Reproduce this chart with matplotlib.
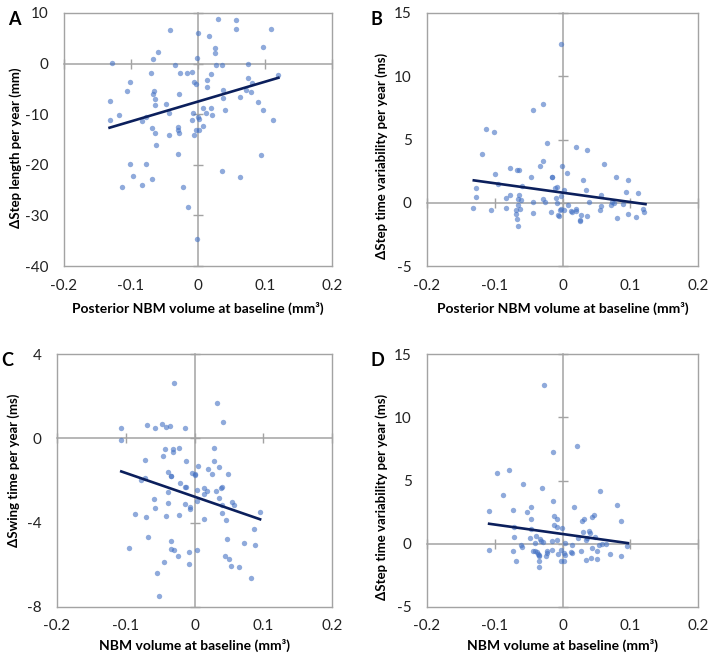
import matplotlib
matplotlib.use("Agg")
import matplotlib.pyplot as plt
import numpy as np

plt.rcParams['font.family'] = ['Lato', 'DejaVu Sans']

# точки (x, y) для каждой панели
step_len_pts = [
    (-0.1285, 0.2), (-0.0425, 6.67), (0.0, 6.0), (0.0305, 8.87), (0.057, 8.53), (0.056, 6.93),
    (0.1095, 6.93), (0.0165, 5.4), (0.0975, 3.27), (-0.0595, 2.2), (0.026, 3.13), (0.025, 2.0),
    (-0.0015, 1.2), (-0.0665, 0.87), (-0.0345, -0.2), (0.0275, -0.2), (0.0355, -0.2), (0.0745, 0.0),
    (-0.0695, -1.8), (-0.0265, -1.93), (-0.0165, -1.8), (-0.0095, -1.67), (0.02, -2.13), (0.12, -2.2),
    (-0.006, -3.73), (-0.003, -4.13), (0.0135, -3.2), (0.074, -2.87), (0.081, -3.87), (-0.101, -3.73),
    (-0.1065, -5.47), (-0.066, -5.4), (-0.0675, -6.07), (-0.0635, -7.07), (0.013, -4.67), (0.0715, -5.27),
    (0.0785, -5.6), (0.062, -6.6), (0.038, -6.73), (0.0375, -5.13), (-0.0285, -5.93), (-0.131, -7.33),
    (-0.0645, -8.2), (-0.048, -8.07), (0.007, -8.8), (0.02, -8.8), (0.04, -9.13), (0.09, -7.53),
    (0.0975, -9.13), (-0.118, -10.07), (-0.131, -11.2), (-0.0835, -11.27), (-0.078, -10.47), (-0.044, -9.73),
    (-0.0075, -9.73), (0.0005, -10.53), (0.002, -10.93), (-0.0085, -11.07), (0.0125, -9.8), (0.021, -10.13),
    (0.112, -11.2), (-0.0685, -12.67), (-0.03, -12.53), (-0.0295, -13.07), (-0.0035, -13.07), (0.0015, -13.07),
    (0.007, -12.4), (-0.0635, -13.73), (-0.044, -14.2), (-0.0285, -13.73), (-0.0065, -14.2), (-0.062, -16.13),
    (-0.03, -17.87), (0.094, -18.13), (-0.1015, -19.8), (-0.0775, -19.93), (0.0365, -21.13), (-0.0965, -22.29),
    (-0.068, -22.75), (0.063, -22.42), (-0.1135, -24.3), (-0.0835, -23.99), (-0.023, -24.3), (-0.0155, -28.37),
    (-0.0015, -34.58),
]
step_var_post_pts = [
    (-0.0025, 12.54), (-0.0441, 7.30), (-0.0294, 7.80), (-0.1132, 5.85), (-0.1015, 5.58), (-0.023, 4.71),
    (0.0201, 4.39), (0.0368, 4.15), (-0.1181, 3.89), (0.0618, 3.10), (-0.0005, 2.94), (-0.0289, 3.33),
    (-0.0338, 2.88), (-0.0779, 2.77), (-0.0672, 2.57), (-0.0647, 2.57), (-0.1, 2.25), (0.0069, 2.38),
    (-0.047, 2.01), (-0.016, 2.04), (-0.0155, 2.02), (0.0304, 1.8), (0.0784, 2.06), (0.097, 1.8),
    (-0.0598, 1.3), (-0.0118, 1.19), (-0.0083, 1.27), (-0.128, 1.19), (-0.0956, 1.51), (0.0015, 0.98),
    (0.0348, 0.98), (0.0931, 0.85), (0.1108, 0.79), (0.0564, 0.61), (-0.1275, 0.42), (-0.0833, 0.40),
    (-0.0770, 0.63), (-0.0647, 0.61), (-0.0662, 0.29), (-0.0618, 0.21), (-0.0284, 0.29), (-0.0098, 0.40),
    (-0.0029, 0.50), (-0.0436, 0.08), (-0.026, 0.05), (-0.0078, -0.03), (0.0387, 0.05), (0.0735, 0.08),
    (0.0755, -0.03), (0.0716, -0.16), (0.0897, -0.13), (-0.0652, -0.21), (0.0074, -0.21), (0.0574, -0.29),
    (-0.1319, -0.42), (-0.1049, -0.58), (-0.0828, -0.45), (-0.0632, -0.48), (-0.0686, -0.56), (-0.0044, -0.56),
    (-0.0015, -0.53), (0.0015, -0.61), (0.0201, -0.53), (0.0559, -0.61), (0.1191, -0.53), (0.1196, -0.74),
    (-0.0431, -0.82), (-0.0176, -0.74), (0.012, -0.68), (0.014, -0.72), (0.0206, -0.69), (0.0275, -0.95),
    (0.0363, -1.08), (-0.0691, -0.87), (0.097, -0.9), (-0.0064, -1.0), (-0.0059, -1.08), (-0.0667, -1.30),
    (0.0809, -1.24), (0.1088, -1.14), (0.0255, -1.37), (0.026, -1.42), (-0.0652, -1.80),
]
swing_pts = [
    (-0.0299, 2.64), (0.0328, 1.66), (0.0419, 0.79), (-0.1065, 0.49), (-0.0694, 0.63), (-0.0578, 0.49),
    (-0.0467, 0.68), (-0.0414, 0.52), (-0.0361, 0.57), (-0.0135, 0.49), (-0.1065, -0.06), (-0.0434, -0.49),
    (-0.0308, -0.52), (-0.0313, -0.65), (-0.0222, -0.46), (0.0289, -0.46), (-0.0463, -0.84), (-0.0718, -1.01),
    (-0.012, -1.06), (0.028, -1.06), (0.0048, -1.30), (0.0361, -1.38), (0.0193, -1.47), (0.0255, -1.68),
    (0.0487, -1.69), (-0.039, -1.58), (-0.0337, -1.77), (-0.0342, -1.79), (-0.0034, -1.63), (0.0, -1.7),
    (0.001, -1.72), (-0.0713, -1.88), (-0.0776, -1.99), (-0.0217, -2.12), (-0.0135, -2.29), (-0.0125, -2.31),
    (-0.039, -2.53), (0.014, -2.34), (0.0405, -2.29), (0.0386, -2.37), (0.0034, -2.45), (0.0178, -2.51),
    (0.014, -2.64), (0.0313, -2.50), (-0.0593, -2.88), (0.0361, -2.83), (-0.0385, -3.08), (-0.0569, -3.32),
    (-0.0135, -3.13), (-0.0072, -3.27), (-0.0063, -3.34), (0.0034, -2.96), (0.0405, -3.16), (0.0545, -3.04),
    (0.0578, -3.16), (0.0954, -3.51), (-0.0867, -3.6), (-0.0708, -3.72), (-0.0419, -3.68), (-0.0222, -3.64),
    (0.0405, -3.56), (0.0453, -3.86), (0.014, -3.84), (-0.0949, -5.2), (-0.067, -4.68), (-0.0342, -4.85),
    (-0.0342, -5.25), (-0.0299, -5.28), (-0.0246, -5.58), (-0.0077, -5.39), (0.0043, -5.28), (-0.0077, -5.96),
    (-0.0443, -5.87), (-0.0545, -6.4), (-0.0516, -7.46), (0.0477, -4.79), (0.0718, -4.95), (0.0872, -4.30),
    (0.0877, -5.06), (0.0448, -5.58), (0.0506, -5.74), (0.0525, -6.04), (0.0646, -6.12), (0.0819, -6.64),
]
step_var_pts = [
    (-0.027, 12.53), (0.0211, 7.73), (-0.0137, 7.23), (-0.0966, 5.59), (-0.0794, 5.80), (-0.0578, 4.72),
    (-0.0299, 4.41), (0.0549, 4.14), (-0.0882, 3.85), (-0.0142, 3.40), (-0.1083, 2.56), (-0.073, 2.69),
    (-0.0461, 2.88), (-0.0525, 2.48), (0.0176, 2.88), (0.0809, 3.06), (-0.0471, 1.93), (-0.0132, 2.19),
    (-0.0088, 1.93), (0.0466, 2.30), (0.0436, 2.08), (0.0324, 1.98), (0.0294, 1.82), (0.0863, 1.79),
    (-0.0711, 1.29), (-0.0127, 1.48), (-0.0088, 1.35), (-0.0005, 1.21), (-0.0466, 1.16), (0.0309, 0.92),
    (0.0397, 0.98), (0.0402, 0.84), (0.0485, 0.55), (-0.072, 0.55), (-0.0392, 0.61), (-0.0475, 0.42),
    (-0.0333, 0.37), (-0.031, 0.21), (-0.029, 0.16), (-0.0157, 0.21), (-0.0083, 0.29), (0.0225, 0.42),
    (0.0368, 0.42), (0.0353, 0.26), (0.0044, 0.05), (-0.0407, 0.05), (-0.0618, -0.08), (-0.0603, -0.24),
    (0.0147, -0.08), (0.0544, -0.08), (0.0583, -0.03), (0.0642, -0.03), (0.0956, -0.21), (-0.1083, -0.47),
    (-0.0735, -0.61), (-0.0436, -0.55), (-0.0402, -0.61), (-0.0373, -0.69), (-0.0363, -0.82), (-0.0235, -0.61),
    (-0.023, -0.71), (-0.0162, -0.53), (-0.002, -0.5), (0.002, -0.71), (0.0123, -0.63), (0.0142, -0.71),
    (0.0275, -0.55), (0.0436, -0.34), (0.0510, -0.55), (-0.0069, -0.82), (0.0034, -0.87), (-0.0343, -0.92),
    (-0.0348, -1.0), (-0.024, -0.95), (0.0701, -0.79), (0.0868, -0.98), (-0.0686, -1.35), (-0.0015, -1.40),
    (0.0029, -1.35), (0.0348, -1.29), (0.0422, -1.16), (0.0515, -1.24), (-0.0348, -1.40), (-0.0348, -1.85),
]

# линии тренда: концы (x), (y)
step_len_fit = ([-0.132, 0.12], [-12.67, -2.8])
step_var_post_fit = ([-0.1309, 0.1225], [1.77, -0.11])
swing_fit = ([-0.1065, 0.0954], [-1.57, -3.84])
step_var_fit = ([-0.1083, 0.0966], [1.58, 0.05])

x_ticks = [-0.2, -0.1, 0, 0.1, 0.2]
step_len_yticks = [-40, -30, -20, -10, 0, 10]
step_var_yticks = [-5, 0, 5, 10, 15]
swing_yticks = [-8, -4, 0, 4]

# буква, точки, тренд, засечки y, подпись y, подпись x,
# рамка в пикселях (left, top, right, bottom), положение подписей (x у ylabel, y у ylabel, y у xlabel)
panels = [
    ("A", step_len_pts, step_len_fit, step_len_yticks, "ΔStep length per year (mm)",
     "Posterior NBM volume at baseline (mm³)", [64, 13, 332, 266], (22, 148, 302)),
    ("B", step_var_post_pts, step_var_post_fit, step_var_yticks, "ΔStep time variability per year (ms)",
     "Posterior NBM volume at baseline (mm³)", [427, 13, 698, 266], (388, 156, 302)),
    ("C", swing_pts, swing_fit, swing_yticks, "ΔSwing time per year (ms)",
     "NBM volume at baseline (mm³)", [57, 354, 332, 607], (20, 470, 639)),
    ("D", step_var_pts, step_var_fit, step_var_yticks, "ΔStep time variability per year (ms)",
     "NBM volume at baseline (mm³)", [427, 354, 698, 607], (388, 497, 639)),
]

W, H = 709, 656
gray = '#a3a3a3'
fig = plt.figure(figsize=(W / 100, H / 100), dpi=100)

for letter, pts, fit, yt, ylab, xlab, box, lab in panels:
    l, t, r, b = box
    w, h = r - l, b - t
    rect = [l / W, 1 - b / H, w / W, h / H]
    ax = fig.add_axes(rect)
    pts = np.array(pts)
    ax.scatter(pts[:, 0], pts[:, 1], s=15, color='#4472C4', alpha=0.6, linewidths=0, zorder=3)
    ax.plot(fit[0], fit[1], color='#0b1f5c', lw=1.9, zorder=4)
    ax.set_xlim(x_ticks[0], x_ticks[-1])
    ax.set_ylim(yt[0], yt[-1])
    ax.set_xticks(x_ticks)
    ax.set_yticks(yt)
    ax.set_xticklabels(['-0.2', '-0.1', '0', '0.1', '0.2'])
    ax.set_yticklabels([str(v) for v in yt])
    ax.tick_params(length=0, labelsize=11, colors='#222222', pad=9)
    ax.tick_params(axis='y', pad=11)
    for s in ax.spines.values():
        s.set_color(gray)
        s.set_linewidth(1)
    ax.set_xlabel(xlab, fontsize=10, fontweight='bold')
    ax.set_ylabel(ylab, fontsize=9.5, fontweight='bold')
    ax.xaxis.set_label_coords(0.5, (b - lab[2]) / h)
    ax.yaxis.set_label_coords((lab[0] - l) / w, (b - lab[1]) / h)

    # оси через ноль с засечками
    ov = fig.add_axes(rect, sharex=ax, sharey=ax)
    ov.patch.set_visible(False)
    ov.spines['top'].set_visible(False)
    ov.spines['right'].set_visible(False)
    ov.spines['left'].set_position(('data', 0))
    ov.spines['bottom'].set_position(('data', 0))
    ov.spines['left'].set_color(gray)
    ov.spines['bottom'].set_color(gray)
    ov.spines['left'].set_linewidth(1.1)
    ov.spines['bottom'].set_linewidth(1.1)
    ov.tick_params(direction='inout', length=7, width=1, color=gray,
                   labelleft=False, labelbottom=False)
    ov.set_zorder(ax.get_zorder() - 1)
    ax.patch.set_visible(False)

    fig.text((l - 56) / W, 1 - (t - 2) / H, letter, fontsize=13, fontweight='bold',
             va='top', ha='left')

fig.savefig('out.png', dpi=100, facecolor='white')
